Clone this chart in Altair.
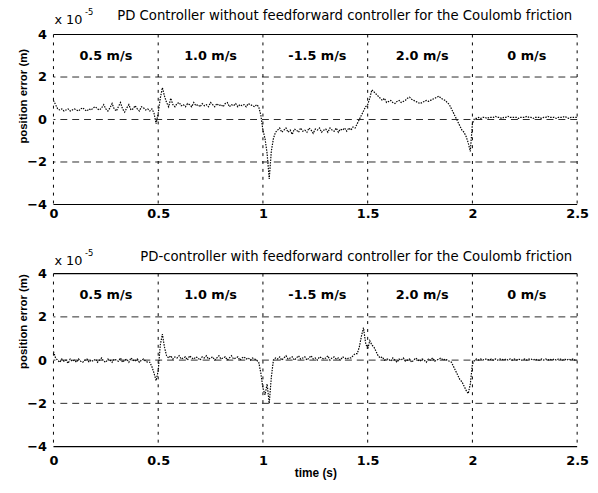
import altair as alt
import pandas as pd

# time samples (s)
t = [round(i * 0.01, 2) for i in range(251)]

# position error (x 1e-5 m), PD controller without feedforward
err_without = [
    0.9, 0.7, 0.5, 0.45, 0.5, 0.4, 0.45, 0.5, 0.4, 0.45,
    0.5, 0.45, 0.4, 0.5, 0.55, 0.45, 0.4, 0.5, 0.45, 0.55,
    0.6, 0.5, 0.45, 0.55, 0.7, 0.5, 0.4, 0.55, 0.75, 0.5,
    0.4, 0.6, 0.8, 0.5, 0.35, 0.55, 0.7, 0.45, 0.5, 0.65,
    0.5, 0.4, 0.6, 0.55, 0.45, 0.5, 0.4, 0.5, 0.3, -0.2,
    0.3, 1.0, 1.5, 1.1, 0.8, 0.6, 1.0, 0.7, 0.6, 0.75,
    0.8, 0.65, 0.7, 0.6, 0.75, 0.7, 0.6, 0.8, 0.65, 0.7,
    0.6, 0.75, 0.65, 0.7, 0.6, 0.8, 0.7, 0.6, 0.75, 0.65,
    0.7, 0.6, 0.75, 0.8, 0.6, 0.7, 0.65, 0.75, 0.6, 0.7,
    0.65, 0.7, 0.6, 0.75, 0.7, 0.65, 0.6, 0.7, 0.6, 0.2,
    -0.5, -0.9, -1.6, -2.8, -1.5, -0.9, -0.6, -0.5, -0.4, -0.6,
    -0.5, -0.4, -0.6, -0.5, -0.7, -0.45, -0.5, -0.6, -0.4, -0.55,
    -0.5, -0.6, -0.4, -0.5, -0.65, -0.45, -0.5, -0.4, -0.6, -0.5,
    -0.45, -0.6, -0.4, -0.5, -0.55, -0.4, -0.6, -0.45, -0.5, -0.4,
    -0.55, -0.4, -0.5, -0.35, -0.4, -0.2, 0.0, 0.2, 0.4, 0.6,
    0.7, 1.0, 1.4, 1.3, 1.2, 1.1, 1.0, 0.9, 1.0, 0.8,
    0.85, 0.9, 0.8, 0.75, 0.85, 0.9, 0.8, 0.85, 0.9, 1.0,
    1.05, 0.95, 0.9, 0.85, 0.8, 0.75, 0.8, 0.85, 0.9, 0.85,
    0.9, 0.95, 1.0, 1.05, 1.1, 1.0, 0.95, 0.9, 0.8, 0.7,
    0.5, 0.3, 0.1, -0.1, -0.3, -0.5, -0.6, -0.8, -1.1, -1.5,
    -0.2, 0.05, 0.05, 0.1, 0.05, 0.1, 0.1, 0.05, 0.1, 0.1,
    0.1, 0.15, 0.1, 0.1, 0.05, 0.1, 0.1, 0.15, 0.1, 0.1,
    0.1, 0.1, 0.05, 0.1, 0.1, 0.1, 0.15, 0.1, 0.1, 0.05,
    0.1, 0.1, 0.1, 0.05, 0.1, 0.1, 0.15, 0.1, 0.1, 0.1,
    0.05, 0.1, 0.1, 0.1, 0.15, 0.1, 0.05, 0.1, 0.1, 0.1,
    0.1,
]

# position error (x 1e-5 m), PD controller with feedforward
err_with = [
    0.4, 0.1, 0.0, -0.1, 0.05, -0.05, 0.0, -0.15, 0.05, -0.05,
    0.0, -0.1, 0.05, -0.05, -0.1, 0.0, 0.05, -0.1, 0.0, -0.05,
    0.05, -0.1, 0.0, 0.1, -0.05, -0.1, 0.05, 0.0, -0.1, 0.05,
    0.0, -0.05, 0.1, -0.1, 0.0, 0.05, -0.1, 0.1, 0.0, -0.05,
    0.05, -0.1, 0.0, 0.05, -0.05, -0.1, -0.1, -0.3, -0.6, -0.95,
    -0.5, 0.7, 1.2, 0.6, 0.2, 0.1, 0.2, 0.05, 0.15, 0.1,
    0.2, 0.05, 0.1, 0.15, 0.0, 0.2, 0.1, 0.05, 0.15, 0.1,
    0.0, 0.15, 0.1, 0.2, 0.05, 0.1, 0.15, 0.0, 0.1, 0.2,
    0.05, 0.1, 0.15, 0.0, 0.1, 0.2, 0.05, 0.1, 0.15, 0.0,
    0.1, 0.15, 0.05, 0.1, 0.0, 0.1, 0.05, 0.0, -0.1, -0.6,
    -1.3, -1.6, -1.1, -2.0, -0.8, 0.0, 0.1, 0.05, 0.15, 0.0,
    0.1, 0.2, 0.05, 0.1, 0.15, 0.0, 0.1, 0.2, 0.05, 0.1,
    0.15, 0.0, 0.1, 0.2, 0.05, 0.1, 0.0, 0.15, 0.1, 0.05,
    0.1, 0.2, 0.0, 0.1, 0.15, 0.05, 0.1, 0.0, 0.15, 0.1,
    0.05, 0.1, 0.1, 0.2, 0.3, 0.3, 0.6, 1.1, 1.5, 0.8,
    0.5, 0.9, 0.7, 0.6, 0.4, 0.2, 0.1, 0.15, 0.0, 0.05,
    0.05, -0.05, 0.1, 0.0, -0.1, 0.05, 0.0, 0.1, -0.05, 0.0,
    0.05, -0.1, 0.0, 0.1, 0.0, -0.05, 0.05, 0.0, -0.1, 0.05,
    0.0, 0.1, -0.05, 0.0, 0.05, 0.1, 0.0, 0.05, 0.0, -0.05,
    -0.1, -0.3, -0.5, -0.7, -0.9, -1.0, -1.2, -1.4, -1.55, -1.1,
    -0.2, 0.0, 0.05, 0.0, 0.05, 0.0, 0.05, 0.05, 0.0, 0.05,
    0.0, 0.05, 0.0, 0.05, 0.05, 0.0, 0.05, 0.0, 0.05, 0.0,
    0.05, 0.0, 0.05, 0.0, 0.0, 0.05, 0.0, 0.05, 0.05, 0.0,
    0.05, 0.0, 0.0, 0.05, 0.0, 0.05, 0.0, 0.05, 0.0, 0.05,
    0.0, 0.05, 0.05, 0.0, 0.05, 0.0, 0.05, 0.0, 0.05, 0.0,
    0.0,
]

speed_labels = ["0.5 m/s", "1.0 m/s", "-1.5 m/s", "2.0 m/s", "0 m/s"]
speed_t = [0.25, 0.75, 1.26, 1.76, 2.26]
speed_y = [3, 3, 3, 3, 3]

x_ticks = [0, 0.5, 1, 1.5, 2, 2.5]
y_ticks = [-4, -2, 0, 2, 4]
grid_y = [2, 0, -2]
border_y = [4, -4]

title_top = "PD Controller without feedforward controller for the Coulomb friction"
title_bottom = "PD-controller with feedforward controller for the Coulomb friction"

W = 530


def panel(values, title, height, xtitle, title_y, xlabel_pad, ytitle_y):
    df = pd.DataFrame({"t": t, "e": values})
    xscale = alt.Scale(domain=[0, 2.5], nice=False, zero=False)
    yscale = alt.Scale(domain=[-4, 4], nice=False, zero=False)

    xaxis_kw = dict(
        values=x_ticks, format="~g", grid=False, domain=False, ticks=False,
        labelFont="DejaVu Sans", labelFontWeight="bold", labelFontSize=13,
        labelPadding=xlabel_pad, labelColor="black", labelFlush=False,
    )
    if xtitle:
        xaxis_kw.update(
            title=xtitle, titleFont="Liberation Sans", titleFontWeight="bold",
            titleFontSize=12, titleColor="black", titlePadding=0,
        )
    else:
        xaxis_kw.update(title="")
    xaxis = alt.Axis(**xaxis_kw)
    yaxis = alt.Axis(
        values=y_ticks, format="d", grid=False, domain=False, ticks=False,
        labelFont="DejaVu Sans", labelFontWeight="bold", labelFontSize=13,
        labelPadding=7, labelColor="black",
        title="position error (m)", titleFont="Liberation Sans",
        titleFontWeight="bold", titleFontSize=11.5, titleColor="black",
        titleX=-30, titleY=ytitle_y, titleAngle=270,
        titleAlign="center", titleBaseline="middle",
    )

    line = alt.Chart(df).mark_line(
        color="black", strokeWidth=1.2, strokeDash=[1.5, 1.2]
    ).encode(
        x=alt.X("t:Q", scale=xscale, axis=xaxis),
        y=alt.Y("e:Q", scale=yscale, axis=yaxis),
    )

    hgrid = alt.Chart(pd.DataFrame({"gy": grid_y})).mark_rule(
        color="#2a2a2a", strokeDash=[7, 5], strokeWidth=1
    ).encode(y=alt.Y("gy:Q", scale=yscale, axis=yaxis))

    vgrid = alt.Chart(pd.DataFrame({"gx": x_ticks})).mark_rule(
        color="black", strokeDash=[3, 5], strokeWidth=1
    ).encode(x=alt.X("gx:Q", scale=xscale, axis=xaxis))

    borders = alt.Chart(pd.DataFrame({"by": border_y})).mark_rule(
        color="black", strokeWidth=1.2
    ).encode(y=alt.Y("by:Q", scale=yscale, axis=yaxis))

    speeds = alt.Chart(pd.DataFrame({"st": speed_t, "sy": speed_y, "lab": speed_labels})).mark_text(
        font="DejaVu Sans", fontWeight="bold", fontSize=13, color="black"
    ).encode(
        x=alt.X("st:Q", scale=xscale, axis=xaxis),
        y=alt.Y("sy:Q", scale=yscale, axis=yaxis),
        text="lab:N",
    )

    title_txt = alt.Chart(pd.DataFrame({"s": [title]})).mark_text(
        align="right", baseline="middle", font="DejaVu Sans", fontSize=13.4, color="black"
    ).encode(x=alt.value(W - 5), y=alt.value(title_y), text="s:N")

    base_txt = alt.Chart(pd.DataFrame({"s": ["x 10"]})).mark_text(
        align="left", baseline="middle", font="DejaVu Sans", fontSize=13, color="black"
    ).encode(x=alt.value(1), y=alt.value(title_y + 4), text="s:N")

    exp_txt = alt.Chart(pd.DataFrame({"s": ["-5"]})).mark_text(
        align="left", baseline="middle", font="DejaVu Sans", fontSize=8.5, color="black"
    ).encode(x=alt.value(32), y=alt.value(title_y - 4), text="s:N")

    return alt.layer(
        hgrid, vgrid, borders, line, speeds, title_txt, base_txt, exp_txt
    ).properties(width=W, height=height)


top = panel(err_without, title_top, 172, None, -19, 3, 62)
bottom = panel(err_with, title_bottom, 175, "time (s)", -17, 8, 48)

chart = alt.vconcat(top, bottom, spacing=27).properties(
    padding={"left": 9, "top": -4, "right": 0, "bottom": 0}
).configure_view(stroke="transparent")

chart.save("out.html", embed_options={"renderer": "svg", "actions": False})
